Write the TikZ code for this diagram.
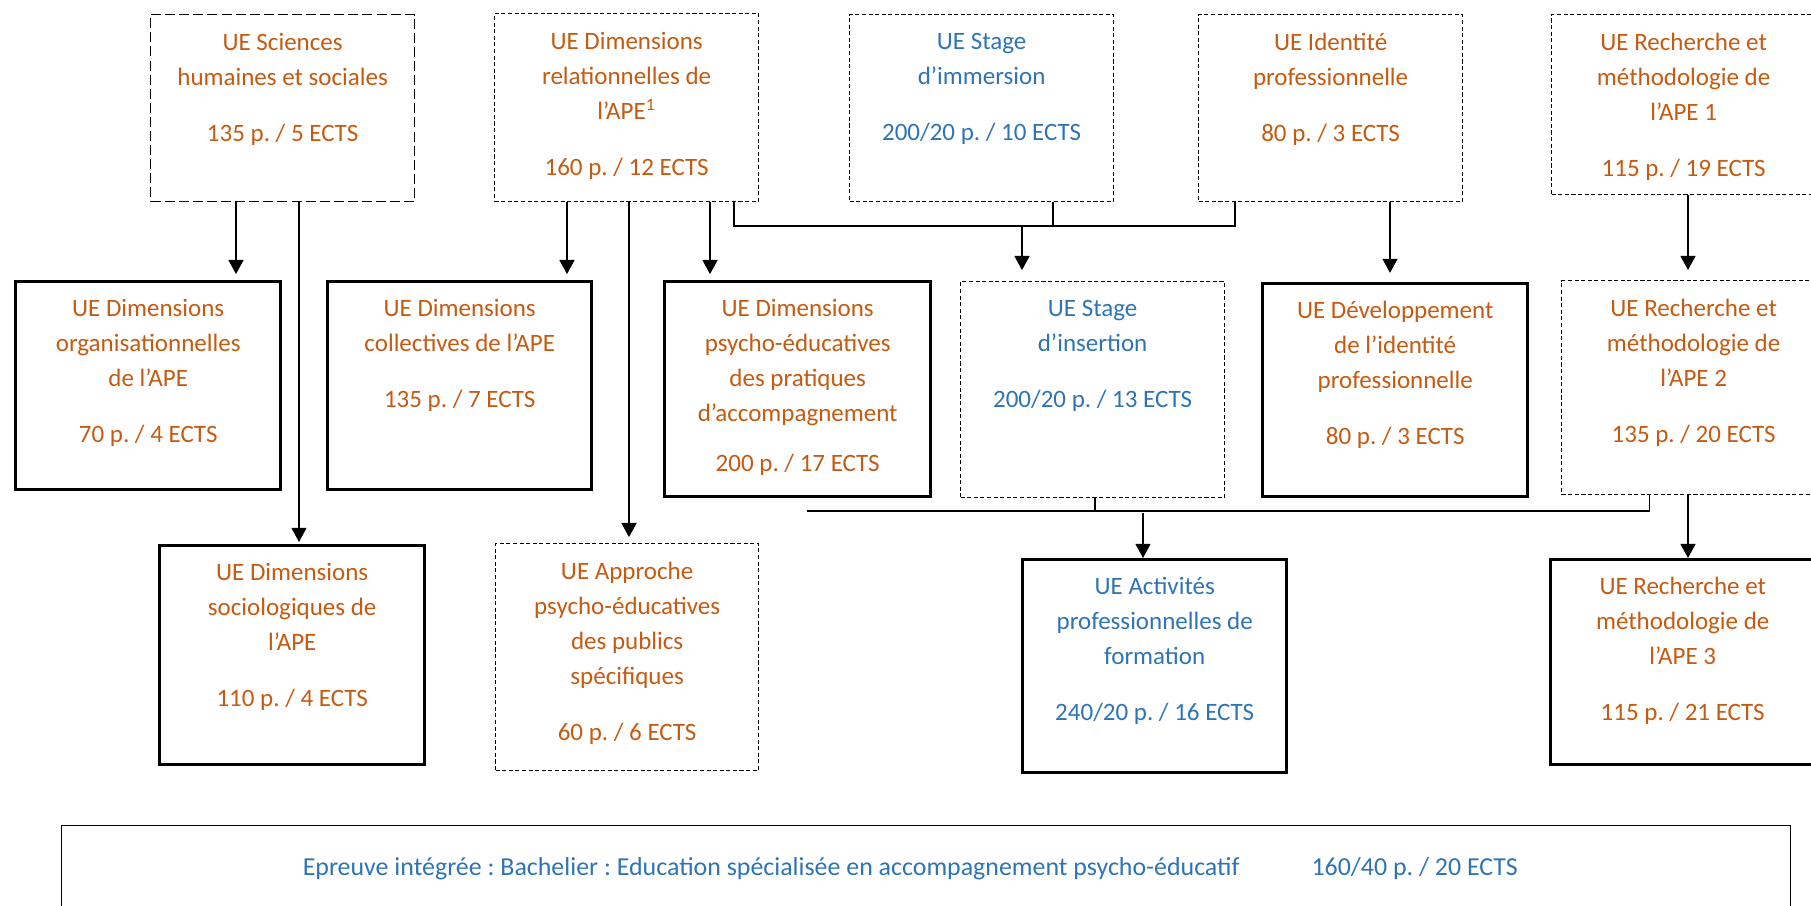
\documentclass[tikz,border=0pt]{standalone}
\usepackage{fontspec}
\setmainfont{Carlito}
\frenchspacing
\usetikzlibrary{arrows.meta}
\definecolor{rust}{RGB}{197, 90, 17}
\definecolor{steel}{RGB}{46, 116, 181}
\newdimen\upx
\upx=0.44pt

\tikzset{
  dashbox/.style={draw, line width=0.55pt, dash pattern=on 1.8pt off 1.1pt, inner sep=0pt, anchor=north west},
  longdashbox/.style={dashbox, dash pattern=on 4.4pt off 1.8pt},
  thickbox/.style={draw, line width=1.5pt, inner sep=0pt, anchor=north west},
  plainbox/.style={draw, line width=0.6pt, inner sep=0pt, anchor=north west},
  uetext/.style={align=center, inner sep=0pt, anchor=north, yshift=-19*\upx, font=\fontsize{11pt}{15.4pt}\selectfont},
  rusttext/.style={uetext, text=rust},
  steeltext/.style={uetext, text=steel},
  link/.style={line width=0.6pt},
  arr/.style={link, -{Triangle[width=6.6pt,length=6.2pt]}, shorten >=#1},
  arr/.default=2.6pt,
}

\begin{document}
\begin{tikzpicture}[x=0.44pt, y=-0.44pt]
    \useasboundingbox (0,0) rectangle (1811,906);
    \clip (0,0) rectangle (1811,906);

    % first row
    \node[longdashbox, minimum width=264*\upx, minimum height=187*\upx] (sciences)  at (150,14)  {};
    \node[dashbox,     minimum width=264*\upx, minimum height=188*\upx] (relation)  at (494,13)  {};
    \node[dashbox,     minimum width=264*\upx, minimum height=187*\upx] (immersion) at (849,14)  {};
    \node[dashbox,     minimum width=264*\upx, minimum height=187*\upx] (identite)  at (1198,14) {};
    \node[dashbox,     minimum width=264*\upx, minimum height=180*\upx] (rech1)     at (1551,14) {};
    \node[rusttext]  (sciences-t)  at (sciences.north)  {UE Sciences\\humaines et sociales\\[9.2pt]135 p. / 5 ECTS};
    \node[rusttext]  (relation-t)  at (relation.north)  {UE Dimensions\\relationnelles de\\l’APE\textsuperscript{1}\\[9.2pt]160 p. / 12 ECTS};
    \node[steeltext] (immersion-t) at (immersion.north) {UE Stage\\d’immersion\\[9.2pt]200/20 p. / 10 ECTS};
    \node[rusttext]  (identite-t)  at (identite.north)  {UE Identité\\professionnelle\\[9.2pt]80 p. / 3 ECTS};
    \node[rusttext]  (rech1-t)     at (rech1.north)     {UE Recherche et\\méthodologie de\\l’APE 1\\[9.2pt]115 p. / 19 ECTS};

    % second row
    \node[thickbox, minimum width=265*\upx, minimum height=208*\upx] (organisation)  at (14,280)   {};
    \node[thickbox, minimum width=264*\upx, minimum height=208*\upx] (collective)    at (326,280)  {};
    \node[thickbox, minimum width=266*\upx, minimum height=215*\upx] (psycho)        at (663,280)  {};
    \node[dashbox,  minimum width=264*\upx, minimum height=216*\upx] (insertion)     at (960,281)  {};
    \node[thickbox, minimum width=265*\upx, minimum height=213*\upx] (developpement) at (1261,282) {};
    \node[dashbox,  minimum width=264*\upx, minimum height=214*\upx] (rech2)         at (1561,280) {};
    \node[rusttext]  (organisation-t)  at (organisation.north)  {UE Dimensions\\organisationnelles\\de l’APE\\[9.2pt]70 p. / 4 ECTS};
    \node[rusttext]  (collective-t)    at (collective.north)    {UE Dimensions\\collectives de l’APE\\[9.2pt]135 p. / 7 ECTS};
    \node[rusttext]  (psycho-t)        at (psycho.north)        {UE Dimensions\\psycho-éducatives\\des pratiques\\d’accompagnement\\[6.6pt]200 p. / 17 ECTS};
    \node[steeltext] (insertion-t)     at (insertion.north)     {UE Stage\\d’insertion\\[9.2pt]200/20 p. / 13 ECTS};
    \node[rusttext]  (developpement-t) at (developpement.north) {UE Développement\\de l’identité\\professionnelle\\[9.2pt]80 p. / 3 ECTS};
    \node[rusttext]  (rech2-t)         at (rech2.north)         {UE Recherche et\\méthodologie de\\l’APE 2\\[9.2pt]135 p. / 20 ECTS};

    % third row
    \node[thickbox, minimum width=265*\upx, minimum height=219*\upx] (sociologique) at (158,544)  {};
    \node[dashbox,  minimum width=263*\upx, minimum height=227*\upx] (approche)     at (495,543)  {};
    \node[thickbox, minimum width=264*\upx, minimum height=213*\upx] (activites)    at (1021,558) {};
    \node[thickbox, minimum width=264*\upx, minimum height=205*\upx] (rech3)        at (1549,558) {};
    \node[rusttext]  (sociologique-t) at (sociologique.north) {UE Dimensions\\sociologiques de\\l’APE\\[9.2pt]110 p. / 4 ECTS};
    \node[rusttext]  (approche-t)     at (approche.north)     {UE Approche\\psycho-éducatives\\des publics\\spécifiques\\[9.2pt]60 p. / 6 ECTS};
    \node[steeltext] (activites-t)    at (activites.north)    {UE Activités\\professionnelles de\\formation\\[9.2pt]240/20 p. / 16 ECTS};
    \node[rusttext]  (rech3-t)        at (rech3.north)        {UE Recherche et\\méthodologie de\\l’APE 3\\[9.2pt]115 p. / 21 ECTS};

    % final exam
    \node[plainbox, minimum width=1729*\upx, minimum height=86*\upx, text=steel, font=\fontsize{11.4pt}{15.4pt}\selectfont] (epreuve) at (61,825)
        {Epreuve intégrée : Bachelier : Education spécialisée en accompagnement psycho-éducatif\hspace{31.7pt}160/40 p. / 20 ECTS\hspace{14pt}\null};

    % links
    \coordinate (bus1) at (0,226);
    \coordinate (bus2) at (806.5,511);
    \draw[arr]       ([xshift=86*\upx]sciences.south west)  -- ([xshift=86*\upx]sciences.south west |- organisation.north);
    \draw[arr=0.9pt] ([xshift=149*\upx]sciences.south west) -- ([xshift=149*\upx]sciences.south west |- sociologique.north);
    \draw[arr]       ([xshift=73*\upx]relation.south west)  -- ([xshift=73*\upx]relation.south west |- collective.north);
    \draw[arr]       ([xshift=135*\upx]relation.south west) -- ([xshift=135*\upx]relation.south west |- approche.north);
    \draw[arr]       ([xshift=216*\upx]relation.south west) -- ([xshift=216*\upx]relation.south west |- psycho.north);
    \draw[link]      ([xshift=240*\upx]relation.south west) -- ([xshift=240*\upx]relation.south west |- bus1) -| ([xshift=37*\upx]identite.south west);
    \draw[link]      ([xshift=204*\upx]immersion.south west) -- ([xshift=204*\upx]immersion.south west |- bus1);
    \draw[arr=4.8pt] ([xshift=62*\upx]insertion.north west |- bus1) -- ([xshift=62*\upx]insertion.north west);
    \draw[arr=4pt]   ([xshift=192*\upx]identite.south west) -- ([xshift=192*\upx]identite.south west |- developpement.north);
    \draw[arr=4.4pt] ([xshift=137*\upx]rech1.south west)    -- ([xshift=137*\upx]rech1.south west |- rech2.north);
    \draw[link]      (bus2) -| ([xshift=88.5*\upx]rech2.south west);
    \draw[link]      ([xshift=135*\upx]insertion.south west) -- ([xshift=135*\upx]insertion.south west |- bus2);
    \draw[arr=0pt]   ([xshift=122*\upx, yshift=-2*\upx]activites.north west |- bus2) -- ([xshift=122*\upx]activites.north west);
    \draw[arr=0pt]   ([xshift=127*\upx]rech2.south west)    -- ([xshift=127*\upx]rech2.south west |- rech3.north);
\end{tikzpicture}
\end{document}
